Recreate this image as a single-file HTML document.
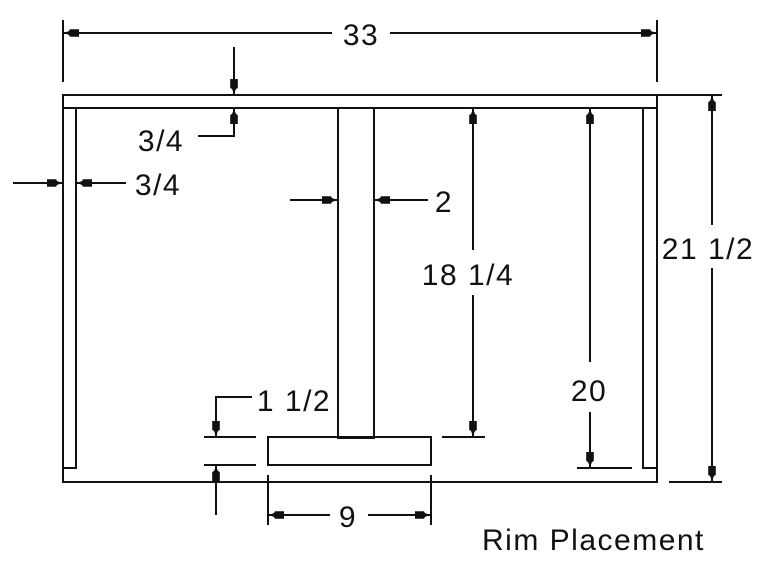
<!DOCTYPE html>
<html><head><meta charset="utf-8"><style>
html,body{margin:0;padding:0;background:#fff;}
svg{display:block;}
text{font-family:"Liberation Sans",sans-serif;font-size:30px;fill:#111;letter-spacing:1.5px;}
</style></head><body>
<svg width="768" height="562" viewBox="0 0 768 562" xmlns="http://www.w3.org/2000/svg">
<defs>
<marker id="a" markerUnits="userSpaceOnUse" markerWidth="17" markerHeight="10" refX="16" refY="5" orient="auto-start-reverse" viewBox="0 0 17 10">
<path d="M16,5 L11,3 L10,1.2 L1,1.2 L1,8.8 L10,8.8 L11,7 Z" fill="#111"/>
</marker>
</defs>
<g stroke="#111" stroke-width="2" fill="none">
<rect x="63" y="95" width="594" height="13"/>
<polyline points="63,108 63,482 657,482 657,108"/>
<polyline points="76,108 76,468 63,468"/>
<polyline points="643,108 643,468 657,468"/>
<rect x="338" y="108" width="36" height="330"/>
<rect x="268" y="437" width="163" height="28"/>
<line x1="63" y1="20" x2="63" y2="82"/>
<line x1="657" y1="20" x2="657" y2="82"/>
<line x1="332" y1="33" x2="64" y2="33" marker-end="url(#a)"/>
<line x1="390" y1="33" x2="656" y2="33" marker-end="url(#a)"/>
<line x1="234" y1="47" x2="234" y2="94" marker-end="url(#a)"/>
<polyline points="198,136 234,136 234,109" marker-end="url(#a)"/>
<line x1="13" y1="183" x2="62" y2="183" marker-end="url(#a)"/>
<line x1="126" y1="183" x2="77" y2="183" marker-end="url(#a)"/>
<line x1="290" y1="200" x2="337" y2="200" marker-end="url(#a)"/>
<line x1="428" y1="200" x2="375" y2="200" marker-end="url(#a)"/>
<line x1="473" y1="250" x2="473" y2="109" marker-end="url(#a)"/>
<line x1="473" y1="295" x2="473" y2="436" marker-end="url(#a)"/>
<line x1="442" y1="437" x2="485" y2="437"/>
<line x1="590" y1="362" x2="590" y2="109" marker-end="url(#a)"/>
<line x1="590" y1="412" x2="590" y2="467" marker-end="url(#a)"/>
<line x1="577" y1="468" x2="632" y2="468"/>
<line x1="657" y1="95" x2="722" y2="95"/>
<line x1="669" y1="482" x2="722" y2="482"/>
<line x1="712" y1="225" x2="712" y2="96" marker-end="url(#a)"/>
<line x1="712" y1="268" x2="712" y2="481" marker-end="url(#a)"/>
<line x1="204" y1="437" x2="256" y2="437"/>
<line x1="204" y1="465" x2="256" y2="465"/>
<polyline points="252,397 216,397 216,436" marker-end="url(#a)"/>
<line x1="216" y1="515" x2="216" y2="466" marker-end="url(#a)"/>
<line x1="268" y1="475" x2="268" y2="525"/>
<line x1="431" y1="475" x2="431" y2="525"/>
<line x1="330" y1="515" x2="269" y2="515" marker-end="url(#a)"/>
<line x1="368" y1="515" x2="430" y2="515" marker-end="url(#a)"/>
</g>
<text x="361" y="45" text-anchor="middle">33</text>
<text x="161" y="151" text-anchor="middle">3/4</text>
<text x="158" y="195" text-anchor="middle">3/4</text>
<text x="444" y="212" text-anchor="middle">2</text>
<text x="468" y="285" text-anchor="middle">18 1/4</text>
<text x="589" y="401" text-anchor="middle">20</text>
<text x="708" y="259" text-anchor="middle">21 1/2</text>
<text x="294" y="411" text-anchor="middle">1 1/2</text>
<text x="348" y="527" text-anchor="middle">9</text>
<text x="482" y="550" letter-spacing="2.6">Rim Placement</text>
</svg>
</body></html>
